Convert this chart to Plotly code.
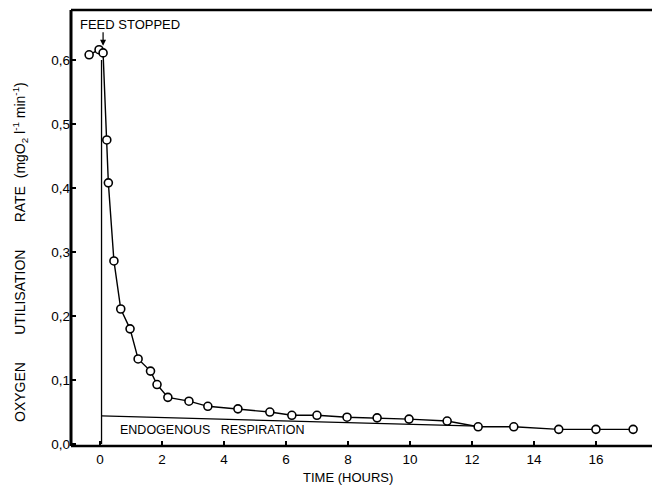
import plotly.graph_objects as go

# Data (time in hours, rate in mgO2 l-1 min-1)
time_h = [-0.35, -0.03, 0.10, 0.22, 0.27, 0.45, 0.67, 0.97, 1.23, 1.63, 1.84,
          2.19, 2.87, 3.48, 4.45, 5.48, 6.19, 7.00, 7.97, 8.94, 9.97, 11.2,
          12.2, 13.35, 14.8, 16.0, 17.2]
rate = [0.608, 0.616, 0.611, 0.475, 0.408, 0.286, 0.211, 0.180, 0.133, 0.114, 0.093,
        0.073, 0.067, 0.059, 0.055, 0.050, 0.045, 0.045, 0.042, 0.041, 0.039, 0.036,
        0.027, 0.027, 0.023, 0.023, 0.023]

endog_t = [0.05, 12.2]
endog_v = [0.044, 0.028]
feed_t = [0.05, 0.05]
feed_v = [0.0, 0.600]

y_ticks = [0.0, 0.1, 0.2, 0.3, 0.4, 0.5, 0.6]
y_ticktext = ["0,0", "0,1", "0,2", "0,3", "0,4", "0,5", "0,6"]
x_ticks = [0, 2, 4, 6, 8, 10, 12, 14, 16]
x_ticktext = ["0", "2", "4", "6", "8", "10", "12", "14", "16"]

FONT = "Liberation Sans, Arial, sans-serif"
NB = "\u00a0"

# The page body adds an 8 px margin, so the figure is drawn 8 px smaller
# and its geometry is expressed in window pixels minus that offset.
OFF = 8
FIG_W, FIG_H = 660 - OFF, 488 - OFF
ML, MT = 71 - OFF, 10 - OFF          # plot area left / top in figure px
PW, PH = 586, 436                    # plot area size
MR = FIG_W - ML - PW
MB = FIG_H - MT - PH


def px(xw):
    return (xw - OFF - ML) / PW


def py(yw):
    return (MT + PH - (yw - OFF)) / PH


fig = go.Figure()
fig.add_trace(go.Scatter(x=feed_t, y=feed_v, mode="lines",
                         line=dict(color="black", width=1.3), hoverinfo="skip"))
fig.add_trace(go.Scatter(x=endog_t, y=endog_v, mode="lines",
                         line=dict(color="black", width=1.3), hoverinfo="skip"))
fig.add_trace(go.Scatter(x=time_h, y=rate, mode="lines+markers",
                         line=dict(color="black", width=1.4),
                         marker=dict(symbol="circle", size=8, color="white",
                                     line=dict(color="black", width=1.6))))

fig.update_layout(
    width=FIG_W, height=FIG_H,
    margin=dict(l=ML, r=MR, t=MT, b=MB, pad=0),
    paper_bgcolor="white", plot_bgcolor="white",
    showlegend=False,
    font=dict(family=FONT, size=13, color="black"),
    xaxis=dict(range=[-0.935, 17.97], tickvals=x_ticks, ticktext=x_ticktext,
               ticks="inside", ticklen=5, tickwidth=1.5, tickcolor="black",
               ticklabelstandoff=3,
               showgrid=False, zeroline=False, showline=False,
               tickfont=dict(size=13.5)),
    yaxis=dict(range=[-0.003, 0.678], tickvals=y_ticks, ticktext=y_ticktext,
               ticks="inside", ticklen=5, tickwidth=1.5, tickcolor="black",
               showgrid=False, zeroline=False, showline=False,
               tickfont=dict(size=13.5)),
    shapes=[
        dict(type="line", xref="paper", yref="paper", x0=0, x1=0, y0=0, y1=1,
             line=dict(color="black", width=3)),
        dict(type="line", xref="paper", yref="paper", x0=0, x1=1, y0=1, y1=1,
             line=dict(color="black", width=2.5)),
        dict(type="line", xref="paper", yref="paper", x0=1, x1=1, y0=0, y1=1,
             line=dict(color="black", width=2.5)),
        dict(type="line", xref="paper", yref="paper", x0=0, x1=1, y0=0, y1=0,
             line=dict(color="black", width=2.5)),
    ],
    annotations=[
        dict(text="FEED STOPPED", x=0.97, y=0.655, xref="x", yref="y",
             showarrow=False, font=dict(size=13)),
        dict(text="", x=0.1, y=0.622, xref="x", yref="y", showarrow=True,
             ax=0, ay=-15, arrowhead=2, arrowsize=1, arrowwidth=1.2, arrowcolor="black"),
        dict(text="ENDOGENOUS" + NB * 3 + "RESPIRATION", x=0.58, y=0.022,
             xref="x", yref="y", xanchor="left", showarrow=False, font=dict(size=12.5)),
        dict(text="TIME" + NB + "(HOURS)", x=px(348), y=py(477), xref="paper", yref="paper",
             xanchor="center", yanchor="middle", showarrow=False, font=dict(size=13)),
        dict(text="OXYGEN" + NB * 7 + "UTILISATION" + NB * 7 + "RATE" + NB * 2 +
                  "(mgO<sub>2</sub>" + NB + "l<sup>-1</sup>" + NB + "min<sup>-1</sup>)",
             x=px(20), y=py(252), xref="paper", yref="paper", textangle=-90,
             xanchor="center", yanchor="middle",
             showarrow=False, font=dict(size=14)),
    ],
)

fig.write_html("out.html")
